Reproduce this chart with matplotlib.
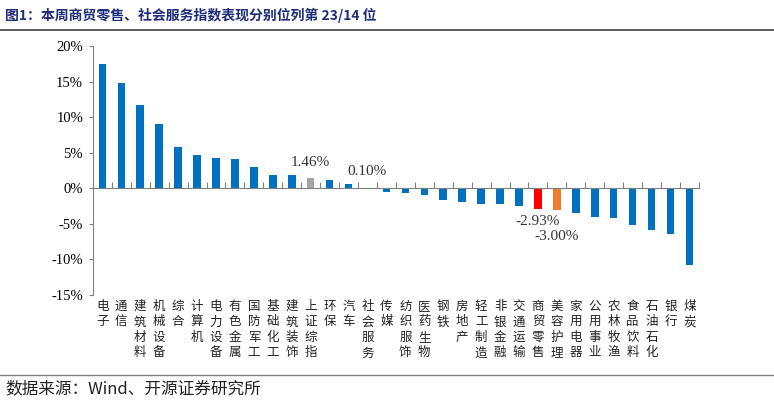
import numpy as np
import matplotlib.pyplot as plt
from matplotlib.lines import Line2D
import matplotlib.transforms as mtransforms

plt.rcParams['font.family'] = ['Liberation Serif', 'Noto Sans CJK SC']

categories = ['电子', '通信', '建筑材料', '机械设备', '综合', '计算机', '电力设备', '有色金属',
              '国防军工', '基础化工', '建筑装饰', '上证综指', '环保', '汽车', '社会服务', '传媒',
              '纺织服饰', '医药生物', '钢铁', '房地产', '轻工制造', '非银金融', '交通运输',
              '商贸零售', '美容护理', '家用电器', '公用事业', '农林牧渔', '食品饮料', '石油石化',
              '银行', '煤炭']
values = [17.46, 14.87, 11.67, 9.08, 5.74, 4.66, 4.19, 4.05, 3.06, 1.88, 1.88, 1.46, 1.18, 0.66,
          0.10, -0.47, -0.71, -0.99, -1.72, -1.87, -2.25, -2.25, -2.45, -2.93, -3.00, -3.45,
          -4.02, -4.17, -5.22, -5.89, -6.37, -10.78]
highlight = {'上证综指': '#A5A5A5', '社会服务': '#FFC000', '商贸零售': '#FF0000', '美容护理': '#ED7D31'}
labelled = {'上证综指': '1.46%', '社会服务': '0.10%', '商贸零售': '-2.93%', '美容护理': '-3.00%'}
yticks = [-15, -10, -5, 0, 5, 10, 15, 20]

fig = plt.figure(figsize=(7.74, 4.04), dpi=100)
ax = fig.add_axes([0.120, 0.270, 0.783, 0.616])

x = np.arange(len(categories))
colors = [highlight.get(c, '#0070C0') for c in categories]
ax.bar(x, values, width=0.4, color=colors, zorder=2)

ax.set_xlim(-0.5, len(categories) - 0.5)
ax.set_ylim(-15, 20)
ax.set_yticks(yticks)
ax.set_yticklabels([f'{t}%' for t in yticks], fontsize=10.5)
ax.tick_params(axis='y', direction='out', length=3, color='#808080', pad=4)

# x axis drawn at zero, tick marks between categories pointing up
ax.spines['bottom'].set_position(('data', 0))
ax.spines['bottom'].set_color('#808080')
ax.spines['left'].set_color('#808080')
ax.spines['top'].set_visible(False)
ax.spines['right'].set_visible(False)
ax.set_xticks(np.arange(len(categories) + 1) - 0.5)
ax.set_xticklabels([])
ax.tick_params(axis='x', direction='in', length=4, color='#808080')

# vertical category labels under the plot
trans = mtransforms.blended_transform_factory(ax.transData, ax.transAxes)
for i, c in enumerate(categories):
    ax.text(i, -0.02, '\n'.join(c), transform=trans, ha='center', va='top',
            fontsize=9, family=['Noto Sans CJK SC'], linespacing=1.25, color='#222222')

# value labels on highlighted bars
for i, c in enumerate(categories):
    if c in labelled:
        v = values[i]
        if v >= 0:
            ax.text(i, v + 1.3, labelled[c], ha='center', va='bottom', fontsize=11, color='#333333')
        else:
            dy = 0.9 if c == '商贸零售' else 2.9
            ax.text(i, v - dy, labelled[c], ha='center', va='top', fontsize=11, color='#333333')

fig.text(0.007, 0.962, '图1：本周商贸零售、社会服务指数表现分别位列第 23/14 位',
         fontsize=10, fontweight='bold', color='#1F2C7A', va='center',
         family=['Noto Sans CJK SC', 'Liberation Serif'])
fig.text(0.007, 0.037, '数据来源：Wind、开源证券研究所', fontsize=12, color='#222222', va='center',
         family=['Noto Sans CJK SC', 'Liberation Serif'])

fig.add_artist(Line2D([0, 1], [0.925, 0.925], color='#404040', lw=1.2, transform=fig.transFigure))
fig.add_artist(Line2D([0, 1], [0.072, 0.072], color='#808080', lw=1.0, transform=fig.transFigure))

fig.savefig('out.png', dpi=100)
